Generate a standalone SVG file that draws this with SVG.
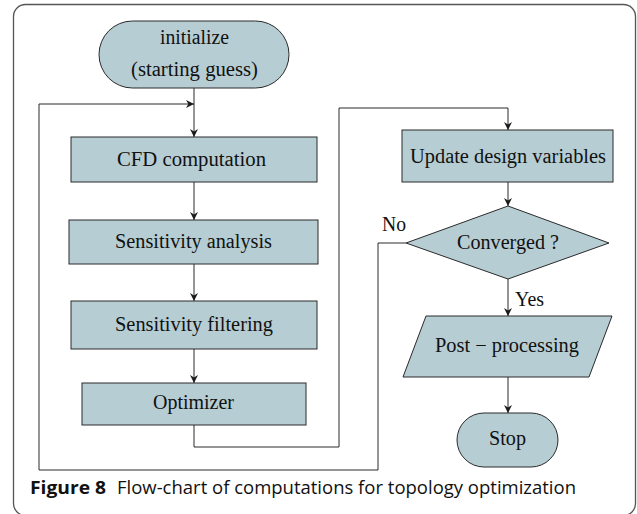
<svg xmlns="http://www.w3.org/2000/svg" width="637" height="514" viewBox="0 0 637 514">
<style>
.nd{fill:#b6cdd3;stroke:#2a2a2a;stroke-width:1}
.t{font-family:"Liberation Serif","DejaVu Serif",serif;font-size:20.5px;fill:#111;text-anchor:middle}
.ln{fill:none;stroke:#2a2a2a;stroke-width:1}
.cap{font-family:"Open Sans","Noto Sans",sans-serif;font-size:18px;fill:#111}
</style>
<defs>
<marker id="ah" viewBox="0 0 10 10" refX="10" refY="5" markerWidth="8" markerHeight="8" markerUnits="userSpaceOnUse" orient="auto">
<path d="M0,0 L10,5 L0,10 L3,5 Z" fill="#1a1a1a"/>
</marker>
</defs>
<rect x="13.5" y="4.5" width="622" height="511" rx="12" fill="none" stroke="#555" stroke-width="1.3"/>
<g id="connectors">
<path class="ln" d="M194,88 V137" marker-end="url(#ah)"/>
<path class="ln" d="M39,470 V104 H194" marker-end="url(#ah)"/>
<path class="ln" d="M194,182 V220" marker-end="url(#ah)"/>
<path class="ln" d="M194,264 V301" marker-end="url(#ah)"/>
<path class="ln" d="M194,349 V383" marker-end="url(#ah)"/>
<path class="ln" d="M194,425 V447 H339 V108 H508 V130" marker-end="url(#ah)"/>
<path class="ln" d="M508,182 V206" marker-end="url(#ah)"/>
<path class="ln" d="M406,243 H378 V470 H39"/>
<path class="ln" d="M508,279 V316" marker-end="url(#ah)"/>
<path class="ln" d="M508,377 V413" marker-end="url(#ah)"/>
<text class="t" x="394" y="231" textLength="24" lengthAdjust="spacingAndGlyphs">No</text>
<text class="t" x="529.5" y="306" textLength="29" lengthAdjust="spacingAndGlyphs">Yes</text>
</g>
<g id="init">
<rect class="nd" x="99" y="21" width="190" height="67" rx="33.5"/>
<text class="t" x="194.5" y="44" textLength="69" lengthAdjust="spacingAndGlyphs">initialize</text>
<text class="t" x="194.5" y="76" textLength="127" lengthAdjust="spacingAndGlyphs">(starting guess)</text>
</g>
<g id="cfd">
<rect class="nd" x="71" y="137" width="246" height="45"/>
<text class="t" x="191.5" y="166" textLength="149" lengthAdjust="spacingAndGlyphs">CFD computation</text>
</g>
<g id="sens">
<rect class="nd" x="69" y="220" width="249" height="44"/>
<text class="t" x="193.5" y="248" textLength="157" lengthAdjust="spacingAndGlyphs">Sensitivity analysis</text>
</g>
<g id="filt">
<rect class="nd" x="71" y="301" width="246" height="48"/>
<text class="t" x="194" y="331" textLength="158" lengthAdjust="spacingAndGlyphs">Sensitivity filtering</text>
</g>
<g id="opt">
<rect class="nd" x="82" y="383" width="224" height="42"/>
<text class="t" x="193.5" y="409" textLength="81" lengthAdjust="spacingAndGlyphs">Optimizer</text>
</g>
<g id="update">
<rect class="nd" x="402" y="130" width="211" height="52"/>
<text class="t" x="508" y="163" textLength="196" lengthAdjust="spacingAndGlyphs">Update design variables</text>
</g>
<g id="conv">
<polygon class="nd" points="508,206 609,243 508,279 406,243"/>
<text class="t" x="508" y="249" textLength="102" lengthAdjust="spacingAndGlyphs">Converged ?</text>
</g>
<g id="post">
<polygon class="nd" points="426,316 612,316 589,377 403,377"/>
<text class="t" x="507" y="352" textLength="144" lengthAdjust="spacingAndGlyphs">Post − processing</text>
</g>
<g id="stop">
<rect class="nd" x="457" y="413" width="101" height="54" rx="27"/>
<text class="t" x="507.5" y="445" textLength="37" lengthAdjust="spacingAndGlyphs">Stop</text>
</g>
<text class="cap" y="494"><tspan x="30" font-weight="bold" textLength="76" lengthAdjust="spacingAndGlyphs">Figure 8</tspan><tspan x="117" textLength="459" lengthAdjust="spacingAndGlyphs">Flow-chart of computations for topology optimization</tspan></text>
</svg>
